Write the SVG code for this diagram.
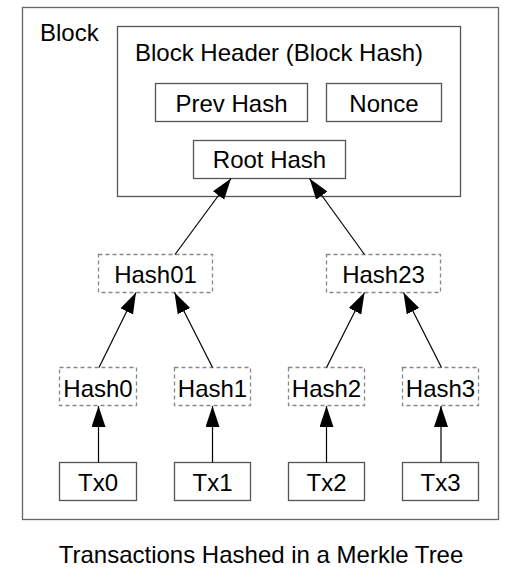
<svg xmlns="http://www.w3.org/2000/svg" width="522" height="578" viewBox="0 0 522 578">
<style>
text{font-family:"Liberation Sans",Arial,sans-serif;font-size:24px;fill:#000}
.solid{fill:#fff;stroke:#555;stroke-width:1.3}
.dash{fill:#fff;stroke:#888;stroke-width:1.3;stroke-dasharray:4,3}
.c{text-anchor:middle}
.con line{stroke:#000;stroke-width:1.2}
</style>
<defs>
<marker id="ah" markerUnits="userSpaceOnUse" markerWidth="22" markerHeight="15" refX="21" refY="7" orient="auto">
<path d="M0,0 L21,7 L0,14 z" fill="#000"/>
</marker>
</defs>
<rect width="522" height="578" fill="#fff"/>
<g id="block">
<rect x="22.5" y="7.5" width="476" height="512" fill="#fff" stroke="#666" stroke-width="1.3"/>
<text x="40" y="41">Block</text>
</g>
<g id="header">
<rect class="solid" x="117.5" y="26.5" width="343" height="170"/>
<text x="135" y="61">Block Header (Block Hash)</text>
</g>
<g id="prevhash"><rect class="solid" x="155.5" y="83.5" width="152" height="38"/><text class="c" x="231.5" y="112">Prev Hash</text></g>
<g id="nonce"><rect class="solid" x="326.5" y="83.5" width="115" height="38"/><text class="c" x="384" y="112">Nonce</text></g>
<g id="roothash"><rect class="solid" x="193.5" y="140.5" width="152" height="38"/><text class="c" x="269.5" y="168">Root Hash</text></g>
<g id="hash01"><rect class="dash" x="98.5" y="254.5" width="114" height="38"/><text class="c" x="155.5" y="283">Hash01</text></g>
<g id="hash23"><rect class="dash" x="326.5" y="254.5" width="114" height="38"/><text class="c" x="383.5" y="283">Hash23</text></g>
<g id="hash0"><rect class="dash" x="59.5" y="367.5" width="77" height="38"/><text class="c" x="98" y="396.5">Hash0</text></g>
<g id="hash1"><rect class="dash" x="174.5" y="367.5" width="76" height="38"/><text class="c" x="212.5" y="396.5">Hash1</text></g>
<g id="hash2"><rect class="dash" x="288.5" y="367.5" width="76" height="38"/><text class="c" x="326.5" y="396.5">Hash2</text></g>
<g id="hash3"><rect class="dash" x="402.5" y="367.5" width="76" height="38"/><text class="c" x="440.5" y="396.5">Hash3</text></g>
<g id="tx0"><rect class="solid" x="59.5" y="462.5" width="77" height="38"/><text class="c" x="98" y="491">Tx0</text></g>
<g id="tx1"><rect class="solid" x="174.5" y="462.5" width="76" height="38"/><text class="c" x="212.5" y="491">Tx1</text></g>
<g id="tx2"><rect class="solid" x="288.5" y="462.5" width="76" height="38"/><text class="c" x="326.5" y="491">Tx2</text></g>
<g id="tx3"><rect class="solid" x="402.5" y="462.5" width="76" height="38"/><text class="c" x="440.5" y="491">Tx3</text></g>
<g class="con" id="connectors">
<line x1="175" y1="254.5" x2="231" y2="178.5" marker-end="url(#ah)"/>
<line x1="364.5" y1="254.5" x2="309.5" y2="178.5" marker-end="url(#ah)"/>
<line x1="99" y1="367.5" x2="136" y2="292.5" marker-end="url(#ah)"/>
<line x1="212.5" y1="367.5" x2="174.5" y2="292.5" marker-end="url(#ah)"/>
<line x1="326.5" y1="367.5" x2="364.5" y2="292.5" marker-end="url(#ah)"/>
<line x1="441.5" y1="367.5" x2="403.5" y2="292.5" marker-end="url(#ah)"/>
<line x1="98.5" y1="462.5" x2="98.5" y2="406" marker-end="url(#ah)"/>
<line x1="212.5" y1="462.5" x2="212.5" y2="406" marker-end="url(#ah)"/>
<line x1="326.5" y1="462.5" x2="326.5" y2="406" marker-end="url(#ah)"/>
<line x1="441" y1="462.5" x2="441" y2="406" marker-end="url(#ah)"/>
</g>
<text id="caption" class="c" x="261" y="562.5">Transactions Hashed in a Merkle Tree</text>
</svg>
